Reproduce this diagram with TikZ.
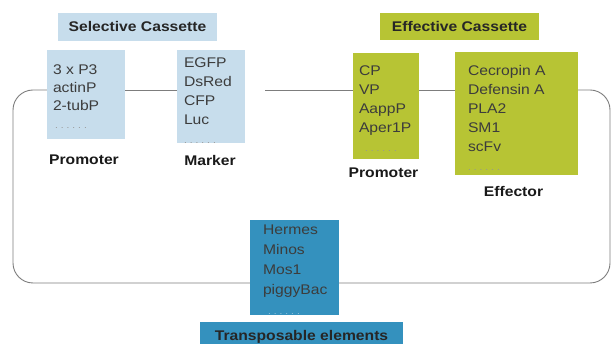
\documentclass[tikz,border=0pt]{standalone}
\usepackage{fontspec}
\setmainfont[FakeStretch=1.12]{Liberation Sans}
\usetikzlibrary{backgrounds}
\definecolor{cblue}{RGB}{199,221,236}
\definecolor{colive}{RGB}{183,196,52}
\definecolor{cteal}{RGB}{52,145,190}
\definecolor{itemtxt}{RGB}{60,60,60}
\definecolor{dotc}{RGB}{150,150,150}
\definecolor{dotlight}{RGB}{150,195,220}
\definecolor{loopc}{RGB}{125,125,125}
\newcommand\dotrow[1]{{\fontsize{9}{19}\selectfont\color{#1}.\hspace{3pt}.\hspace{3pt}.\hspace{3pt}.\hspace{3pt}.\hspace{3pt}.}}
\begin{document}
\begin{tikzpicture}[x=1pt,y=-1pt,
  panel/.style={inner sep=0pt, outer sep=0pt, anchor=north west},
  items/.style={inner sep=0pt, outer sep=0pt, anchor=north west, align=left, text=itemtxt, font=\fontsize{14}{19}\selectfont},
  lbl/.style={font=\bfseries\fontsize{14}{16}\selectfont, text=black!90, inner sep=0pt},
  head/.style={font=\bfseries\fontsize{14}{16}\selectfont, text=black!85, minimum height=28pt, inner sep=0pt, outer sep=0pt},
  conn/.style={draw=loopc, line width=0.9pt}]
\useasboundingbox (0,0) rectangle (611,344);
\coordinate (ly) at (0,90);
\coordinate (gap) at (265,90);
% headings
\node[head, fill=cblue, minimum width=159pt] (sc) at (137.5,27) {Selective Cassette};
\node[head, fill=colive, minimum width=159pt, minimum height=27pt] (ec) at (459.5,26.5) {Effective Cassette};
\node[head, fill=cteal, minimum width=203pt, minimum height=30pt] (te) at (301.5,337) {Transposable elements};
% panels
\node[panel, fill=cblue, minimum width=78pt, minimum height=89pt] (lp) at (47,50) {};
\node[panel, fill=cblue, minimum width=68pt, minimum height=93pt] (mk) at (177,50) {};
\node[panel, fill=colive, minimum width=66pt, minimum height=106pt] (ep) at (353,53) {};
\node[panel, fill=colive, minimum width=123pt, minimum height=123pt] (eff) at (455,52) {};
\node[panel, fill=cteal, minimum width=89pt, minimum height=95pt] (tp) at (250,220) {};
% panel contents
\node[items, font=\fontsize{14}{18}\selectfont] (lpt) at (53,65) {3 x P3\\actinP\\2-tubP\\\hspace{2pt}\dotrow{dotc}};
\node[items] (mkt) at (184,58) {EGFP\\DsRed\\CFP\\Luc\\\dotrow{dotc}};
\node[items] (ept) at (359,66) {CP\\VP\\AappP\\Aper1P\\\hspace{6pt}\dotrow{dotc}};
\node[items] (efft) at (468,65) {Cecropin A\\Defensin A\\PLA2\\SM1\\scFv\\\dotrow{dotc}};
\node[items, font=\fontsize{14}{20}\selectfont] (tpt) at (263,225) {Hermes\\Minos\\Mos1\\piggyBac\\\hspace{5pt}\dotrow{dotlight}};
% labels
\node[lbl] (lpl) at (84,160) {Promoter};
\node[lbl] (mkl) at (210,160) {Marker};
\node[lbl] (epl) at (383.5,172.5) {Promoter};
\node[lbl] (effl) at (513.5,191) {Effector};
% connectors
\begin{scope}[on background layer]
\draw[conn, rounded corners=20pt] (lp.west |- ly) -- (13,90) -- (13,283) -- (610,283) -- (610,90) -- (eff.east |- ly);
\end{scope}
\draw[conn] (lp.east |- ly) -- (mk.west |- ly);
\draw[conn] (gap) -- (ep.west |- ly);
\draw[conn] (ep.east |- ly) -- (eff.west |- ly);
\end{tikzpicture}
\end{document}
